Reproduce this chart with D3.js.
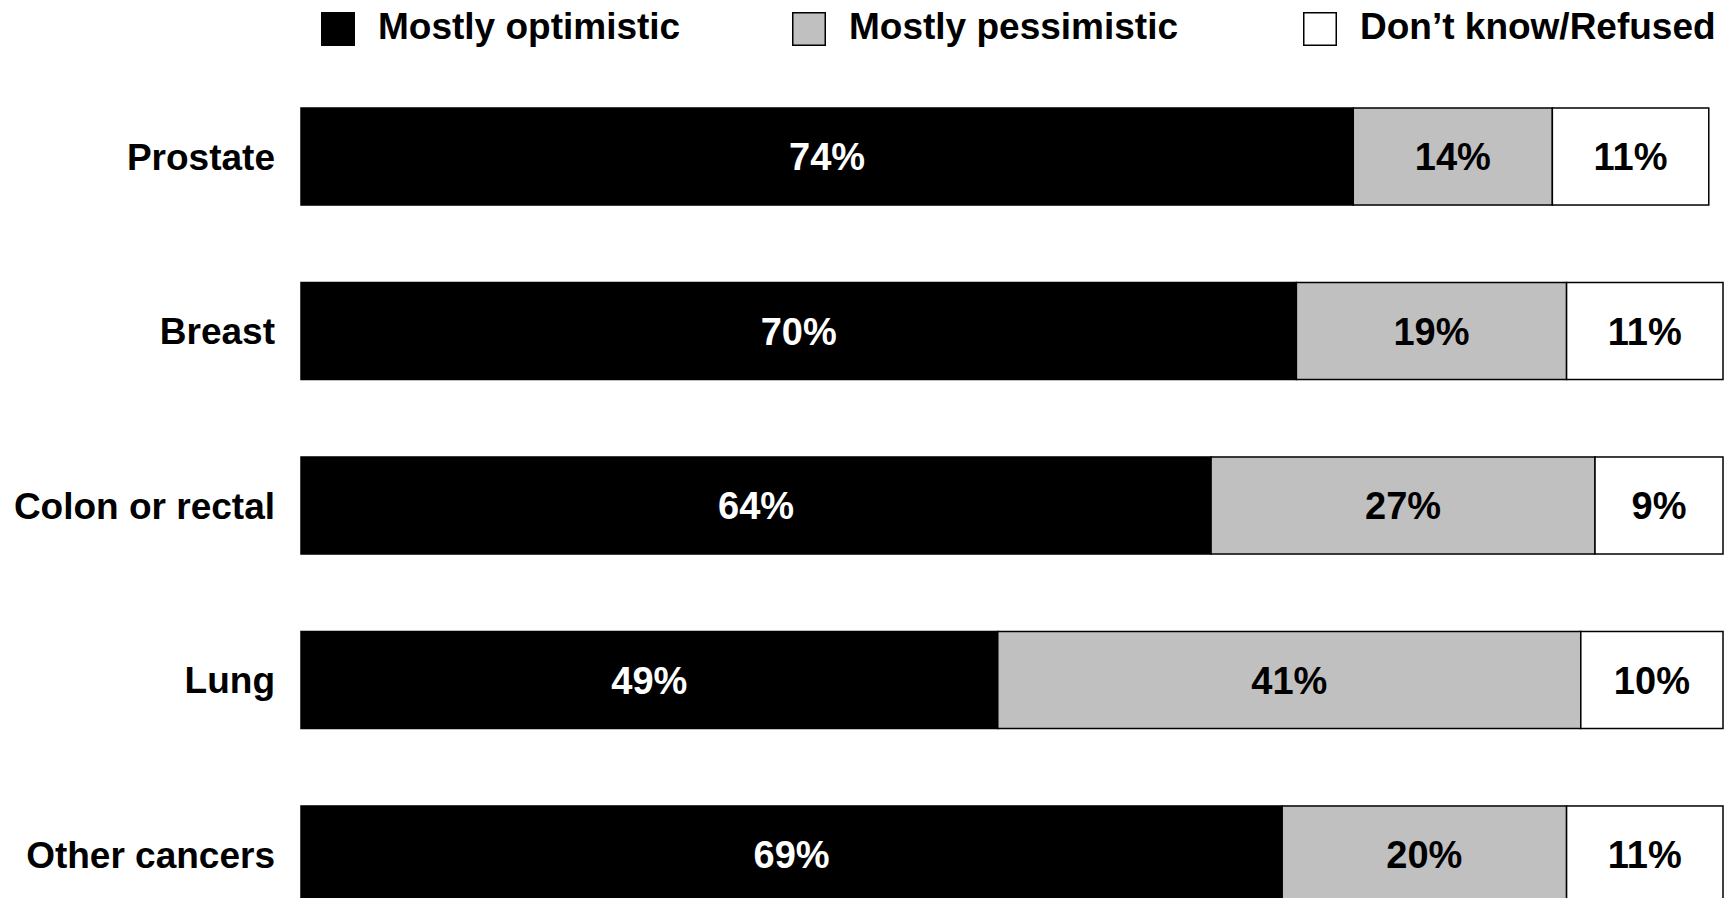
<!DOCTYPE html>
<html>
<head>
<meta charset="utf-8">
<script src="https://cdn.jsdelivr.net/npm/d3@7"></script>
<style>
html,body{margin:0;padding:0;background:#fff;}
svg{display:block;}
text{font-family:"Liberation Sans",Arial,sans-serif;font-weight:bold;}
</style>
</head>
<body>
<svg id="chart" width="1727" height="898"></svg>
<script>
const categories = ["Prostate", "Breast", "Colon or rectal", "Lung", "Other cancers"];
const seriesNames = ["Mostly optimistic", "Mostly pessimistic", "Don\u2019t know/Refused"];
const optimistic = [74, 70, 64, 49, 69];
const pessimistic = [14, 19, 27, 41, 20];
const dontKnow = [11, 11, 9, 10, 11];
const colors = ["#000000", "#c0c0c0", "#ffffff"];
const textColors = ["#ffffff", "#000000", "#000000"];

const rows = categories.map((c, i) => ({cat: c, v: [optimistic[i], pessimistic[i], dontKnow[i]]}));

const svg = d3.select("#chart");
const x = d3.scaleLinear().domain([0, 100]).range([301, 1723]);
const y = d3.scaleBand().domain(categories).range([108, 903]).paddingInner(0.444).paddingOuter(0);

const g = svg.append("g");
rows.forEach(r => {
  let cum = 0;
  r.v.forEach((val, j) => {
    const x0 = x(cum), x1 = x(cum + val);
    g.append("rect")
      .attr("x", x0).attr("y", y(r.cat))
      .attr("width", x1 - x0).attr("height", y.bandwidth())
      .attr("fill", colors[j]).attr("stroke", "#000").attr("stroke-width", 1.5);
    g.append("text")
      .attr("x", (x0 + x1) / 2).attr("y", y(r.cat) + y.bandwidth() / 2)
      .attr("dy", "0.36em").attr("text-anchor", "middle")
      .attr("font-size", 38).attr("fill", textColors[j])
      .text(val + "%");
    cum += val;
  });
});

// category axis labels
const yAxis = d3.axisLeft(y).tickSize(0).tickPadding(26);
const ax = svg.append("g").attr("transform", "translate(301,0)").call(yAxis);
ax.select(".domain").remove();
ax.selectAll("text").attr("font-size", 37).attr("fill", "#000").attr("dy", "0.36em")
  .style("font-family", '"Liberation Sans",Arial,sans-serif').style("font-weight", "bold");

// legend
const legendX = [321, 792, 1303];
const lg = svg.append("g");
seriesNames.forEach((n, j) => {
  lg.append("rect").attr("x", legendX[j] + 0.75).attr("y", 12.75).attr("width", 32.5).attr("height", 32.5)
    .attr("fill", colors[j]).attr("stroke", "#000").attr("stroke-width", 1.5);
  lg.append("text").attr("x", legendX[j] + 57).attr("y", 26.5).attr("dy", "0.35em")
    .attr("font-size", 37).attr("fill", "#000").text(n);
});
</script>
</body>
</html>
